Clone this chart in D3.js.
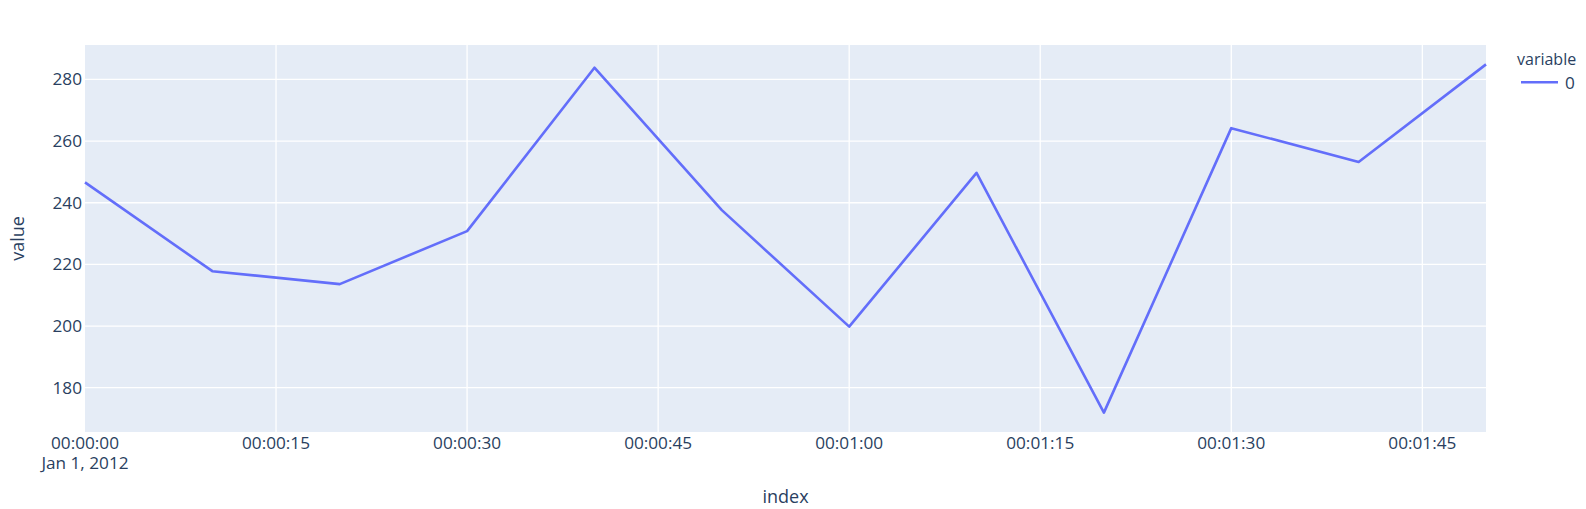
<!DOCTYPE html>
<html>
<head>
<meta charset="utf-8">
<script src="https://cdn.jsdelivr.net/npm/d3@7"></script>
<style>
  html, body { margin: 0; padding: 0; background: #fff; }
  svg { display: block; font-family: "Open Sans", verdana, arial, sans-serif; }
</style>
</head>
<body>
<svg id="chart" width="1586" height="509"></svg>
<script>
// ---- data ----
const seriesName = "0";
const startTime = "2012-01-01T00:00:00Z";
const offsetsSec = [0, 10, 20, 30, 40, 50, 60, 70, 80, 90, 100, 110];
const values = [246.6, 217.8, 213.6, 230.8, 283.8, 237.6, 199.8, 249.7, 171.9, 264.2, 253.2, 284.9];
const yTickValues = [180, 200, 220, 240, 260, 280];
const xTickStepSec = 15;
const xTitle = "index";
const yTitle = "value";
const legendTitle = "variable";

// ---- layout ----
const W = 1586, H = 509;
const plot = { left: 85, right: 1486, top: 45, bottom: 432 };
const textColor = "#2a3f5f";
const bg = "#E5ECF6";
const lineColor = "#636EFA";

const t0 = new Date(startTime);
const data = offsetsSec.map((s, i) => ({ t: new Date(t0.getTime() + s * 1000), v: values[i] }));

const svg = d3.select("#chart");
svg.append("rect").attr("width", W).attr("height", H).attr("fill", "#fff");

const x = d3.scaleUtc()
  .domain(d3.extent(data, d => d.t))
  .range([plot.left, plot.right]);

const [vmin, vmax] = d3.extent(values);
const pad = (vmax - vmin) * 0.05 / 0.9;
const y = d3.scaleLinear()
  .domain([vmin - pad, vmax + pad])
  .range([plot.bottom, plot.top]);

// background
svg.append("rect")
  .attr("x", plot.left).attr("y", plot.top)
  .attr("width", plot.right - plot.left).attr("height", plot.bottom - plot.top)
  .attr("fill", bg);

const xTicks = x.ticks(d3.utcSecond.every(xTickStepSec));

// grid
const grid = svg.append("g");
grid.selectAll("line.xg").data(xTicks.filter(d => x(d) > plot.left + 1))
  .join("line").attr("class", "xg")
  .attr("x1", d => x(d)).attr("x2", d => x(d))
  .attr("y1", plot.top).attr("y2", plot.bottom)
  .attr("stroke", "#fff").attr("stroke-width", 1.3);
grid.selectAll("line.yg").data(yTickValues)
  .join("line").attr("class", "yg")
  .attr("x1", plot.left).attr("x2", plot.right)
  .attr("y1", d => y(d)).attr("y2", d => y(d))
  .attr("stroke", "#fff").attr("stroke-width", 1.3);

// line
const line = d3.line().x(d => x(d.t)).y(d => y(d.v));
svg.append("path").datum(data)
  .attr("d", line)
  .attr("fill", "none")
  .attr("stroke", lineColor)
  .attr("stroke-width", 2.6)
  .attr("stroke-linejoin", "round");

// y tick labels
const tickFont = 17.2;
svg.append("g").selectAll("text").data(yTickValues).join("text")
  .attr("x", plot.left - 3)
  .attr("y", d => y(d) + 6)
  .attr("text-anchor", "end")
  .attr("fill", textColor)
  .attr("font-size", tickFont)
  .text(d => d);

// x tick labels
const fmt = d3.utcFormat("%H:%M:%S");
const fmtDate = d3.utcFormat("%b %-d, %Y");
svg.append("g").selectAll("text").data(xTicks).join("text")
  .attr("x", d => x(d))
  .attr("y", 449)
  .attr("text-anchor", "middle")
  .attr("fill", textColor)
  .attr("font-size", tickFont)
  .text(d => fmt(d));
svg.append("text")
  .attr("x", x(xTicks[0]))
  .attr("y", 469)
  .attr("text-anchor", "middle")
  .attr("fill", textColor)
  .attr("font-size", tickFont)
  .text(fmtDate(xTicks[0]));

// axis titles
svg.append("text")
  .attr("x", (plot.left + plot.right) / 2)
  .attr("y", 503)
  .attr("text-anchor", "middle")
  .attr("fill", textColor)
  .attr("font-size", 18)
  .text(xTitle);
svg.append("text")
  .attr("transform", `translate(23.5,${(plot.top + plot.bottom) / 2}) rotate(-90)`)
  .attr("text-anchor", "middle")
  .attr("fill", textColor)
  .attr("font-size", 18)
  .text(yTitle);

// legend
const lg = svg.append("g");
lg.append("text")
  .attr("x", 1517).attr("y", 65)
  .attr("fill", textColor).attr("font-size", 16)
  .text(legendTitle);
lg.append("line")
  .attr("x1", 1521).attr("x2", 1558)
  .attr("y1", 82.3).attr("y2", 82.3)
  .attr("stroke", lineColor).attr("stroke-width", 2.6);
lg.append("text")
  .attr("x", 1565).attr("y", 89)
  .attr("fill", textColor).attr("font-size", tickFont)
  .text(seriesName);
</script>
</body>
</html>
